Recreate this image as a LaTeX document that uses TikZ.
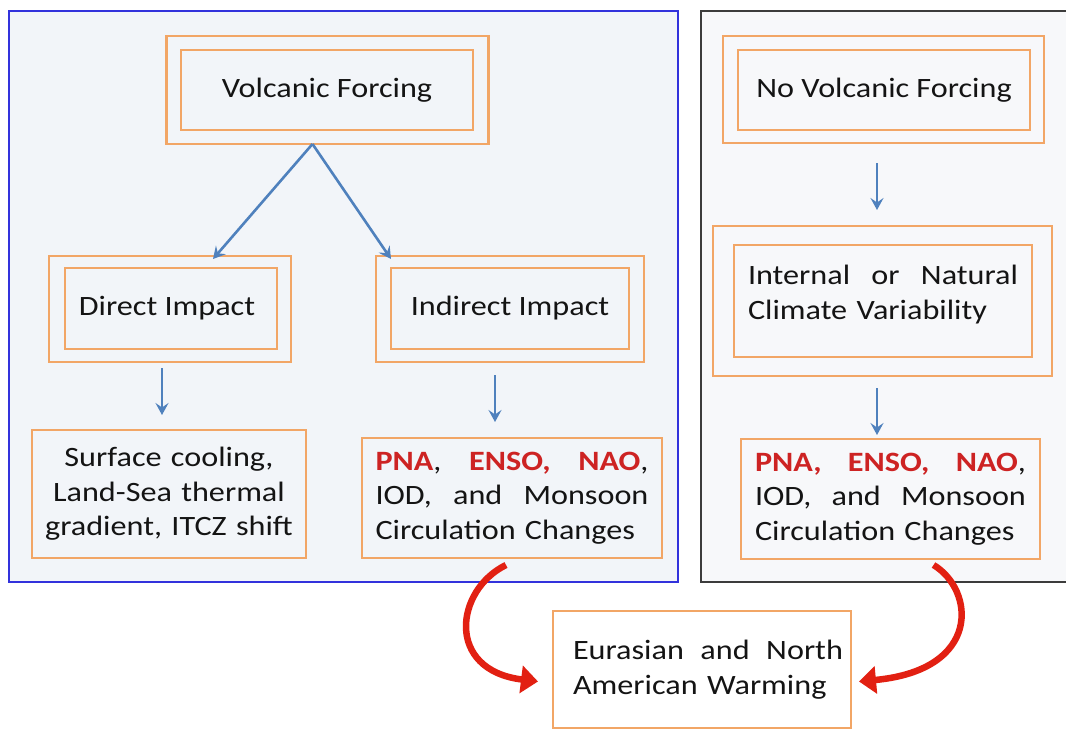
\documentclass[tikz,border=0pt]{standalone}
\usepackage{fontspec}
\setmainfont{Carlito}[FakeStretch=1.15]
\usetikzlibrary{arrows.meta}
\definecolor{boxorange}{RGB}{242,166,102}
\definecolor{arrowblue}{RGB}{79,129,189}
\definecolor{redtxt}{RGB}{205,35,35}
\definecolor{redarr}{RGB}{226,32,18}
\definecolor{panelLfill}{RGB}{242,245,249}
\definecolor{panelLline}{RGB}{50,50,220}
\definecolor{panelRfill}{RGB}{247,248,250}
\definecolor{panelRline}{RGB}{60,60,60}
\definecolor{txt}{RGB}{20,20,20}
\newcommand{\redb}[1]{\textcolor{redtxt}{\textbf{#1}}}
\begin{document}
\begin{tikzpicture}[x=1pt,y=-1pt,
  every node/.style={inner sep=0pt, outer sep=0pt, text=txt,
     font=\fontsize{28}{34.5}\selectfont},
  panel/.style={rectangle, line width=1.4pt},
  obox/.style={rectangle, draw=boxorange, line width=2.6pt},
  bluearrow/.style={draw=arrowblue, line width=2.6pt,
     -{Stealth[length=12pt,width=13pt,inset=4.5pt]}},
  redarrow/.style={draw=redarr, line width=6.5pt,
     -{Triangle[length=17pt,width=27pt]}}
]
\useasboundingbox (0,0) rectangle (1066,731);
\fill[white] (0,0) rectangle (1066,731);

% panels
\node[panel, draw=panelLline, fill=panelLfill, minimum width=669pt, minimum height=571pt] (panelL) at (343.5,296.5) {};
\node[panel, draw=panelRline, fill=panelRfill, minimum width=367pt, minimum height=571pt] (panelR) at (884.5,296.5) {};

% left column
\node[obox, minimum width=322pt, minimum height=108pt] (vfO) at (327.5,90) {};
\node[obox, minimum width=292pt, minimum height=80pt] (vfI) at (327,90) {Volcanic Forcing};

\node[obox, minimum width=242pt, minimum height=106pt] (diO) at (170,309) {};
\node[obox, minimum width=212pt, minimum height=81pt] (diI) at (171,308.5) {\hspace*{-8pt}Direct Impact};

\node[obox, minimum width=268pt, minimum height=106pt] (iiO) at (510,309) {};
\node[obox, minimum width=238pt, minimum height=81pt] (iiI) at (510,308.5) {Indirect Impact};

\node[obox, minimum width=274pt, minimum height=128pt, text width=260pt, align=center] (sc) at (169,494)
  {Surface cooling,\\Land-Sea thermal\\gradient, ITCZ shift};

\node[obox, minimum width=300pt, minimum height=120pt, text width=273pt, align=left] (pnaL) at (512,498)
  {\makebox[273pt]{\redb{PNA},\hfill\redb{ENSO,}\hfill\redb{NAO},}\\
   \makebox[273pt]{IOD,\hfill and\hfill Monsoon}\\
   Circulation Changes};

% right column
\node[obox, minimum width=321pt, minimum height=107pt] (nvfO) at (883.5,89.5) {};
\node[obox, minimum width=292pt, minimum height=80pt] (nvfI) at (884,90) {No Volcanic Forcing};

\node[obox, minimum width=339pt, minimum height=150pt] (intO) at (882.5,301) {};
\node[obox, minimum width=298pt, minimum height=112pt, text width=270pt, align=left] (intI) at (883,301)
  {\makebox[270pt]{Internal\hfill or\hfill Natural}\\
   Climate Variability\\[-17pt]\mbox{}};

\node[obox, minimum width=299pt, minimum height=120pt, text width=271pt, align=left] (pnaR) at (890.5,499)
  {\makebox[271pt]{\redb{PNA,}\hfill\redb{ENSO,}\hfill\redb{NAO},}\\
   \makebox[271pt]{IOD,\hfill and\hfill Monsoon}\\
   Circulation Changes};

% bottom
\node[obox, minimum width=298pt, minimum height=117pt, text width=282pt, align=left] (eur) at (702,669.5)
  {\hspace*{12pt}\makebox[270pt]{Eurasian\hfill and\hfill North}\\
   \hspace*{12pt}American Warming};

% blue arrows
\draw[bluearrow] ([xshift=-15pt]vfO.south) -- ([xshift=43pt,yshift=-3pt]diO.north);
\draw[bluearrow] ([xshift=-15pt]vfO.south) -- ([xshift=-119pt,yshift=-3pt]iiO.north);
\draw[bluearrow, shorten <=6pt, shorten >=15pt] ([xshift=-8pt]diO.south) -- ([xshift=-7pt]sc.north);
\draw[bluearrow, shorten <=13pt, shorten >=16pt] ([xshift=-15pt]iiO.south) -- ([xshift=-17pt]pnaL.north);
\draw[bluearrow, shorten <=20pt, shorten >=16pt] ([xshift=-6.5pt]nvfO.south) -- ([xshift=-5.5pt]intO.north);
\draw[bluearrow, shorten <=12pt, shorten >=4pt] ([xshift=-5.5pt]intO.south) -- ([xshift=-13.5pt]pnaR.north);

% red curved arrows
\draw[redarrow] ([xshift=-6pt,yshift=-7pt]pnaL.south) .. controls (455,590) and (445,670) .. ([xshift=-15pt,yshift=-12pt]eur.west);
\draw[redarrow] ([xshift=43pt,yshift=-6pt]pnaR.south) .. controls (975,590) and (982,670) .. ([xshift=8pt,yshift=-12pt]eur.east);
\end{tikzpicture}
\end{document}
